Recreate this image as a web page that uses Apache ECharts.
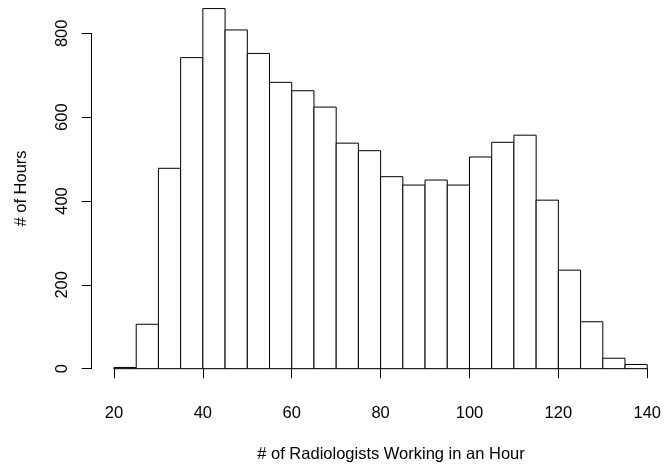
<!DOCTYPE html>
<html>
<head>
<meta charset="utf-8">
<script src="https://cdn.jsdelivr.net/npm/echarts@6/dist/echarts.min.js"></script>
<style>html,body{margin:0;padding:0;background:#fff}#c{width:664px;height:468px}</style>
</head>
<body>
<div id="c"></div>
<script>
const binEdges = [20,25,30,35,40,45,50,55,60,65,70,75,80,85,90,95,100,105,110,115,120,125,130,135,140];
const counts = [3,106,478,742,859,808,752,683,663,624,538,520,458,438,450,438,505,540,557,402,235,112,25,10];
const xTitle = '# of Radiologists Working in an Hour';
const yTitle = '# of Hours';

const data = counts.map((c, i) => [binEdges[i], binEdges[i + 1], c]);
const font = '"Liberation Sans", Arial, sans-serif';
const chart = echarts.init(document.getElementById('c'), null, {renderer: 'canvas'});
chart.setOption({
  animation: false,
  backgroundColor: '#fff',
  grid: {left: 114, right: 13.7, top: 33.3, bottom: 99.3, containLabel: false},
  xAxis: {
    type: 'value', min: 20, max: 140, interval: 20, offset: 15,
    axisLine: {show: true, lineStyle: {color: '#000', width: 1}},
    axisTick: {show: true, length: 9.5, lineStyle: {color: '#000'}},
    axisLabel: {color: '#000', fontSize: 16.5, fontFamily: font, margin: 21},
    splitLine: {show: false}
  },
  yAxis: {
    type: 'value', min: 0, max: 800, interval: 200, offset: 22.3,
    axisLine: {show: true, lineStyle: {color: '#000', width: 1}},
    axisTick: {show: true, length: 10, lineStyle: {color: '#000'}},
    axisLabel: {color: '#000', fontSize: 16.5, fontFamily: font, margin: 21, rotate: 90},
    splitLine: {show: false}
  },
  series: [{
    type: 'custom',
    clip: false,
    data: data,
    encode: {x: [0, 1], y: 2},
    renderItem: function (params, api) {
      const p0 = api.coord([api.value(0), api.value(2)]);
      const p1 = api.coord([api.value(1), 0]);
      return {
        type: 'rect',
        shape: {x: p0[0], y: p0[1], width: p1[0] - p0[0], height: p1[1] - p0[1]},
        style: {fill: '#fff', stroke: '#000', lineWidth: 1}
      };
    }
  }],
  graphic: [
    {type: 'text', x: 391, y: 454, style: {text: xTitle, fill: '#000', font: '16.5px ' + font, textAlign: 'center', textVerticalAlign: 'middle'}},
    {type: 'text', x: 21, y: 188.5, rotation: Math.PI / 2, style: {text: yTitle, fill: '#000', font: '16.5px ' + font, textAlign: 'center', textVerticalAlign: 'middle'}}
  ]
});
</script>
</body>
</html>
